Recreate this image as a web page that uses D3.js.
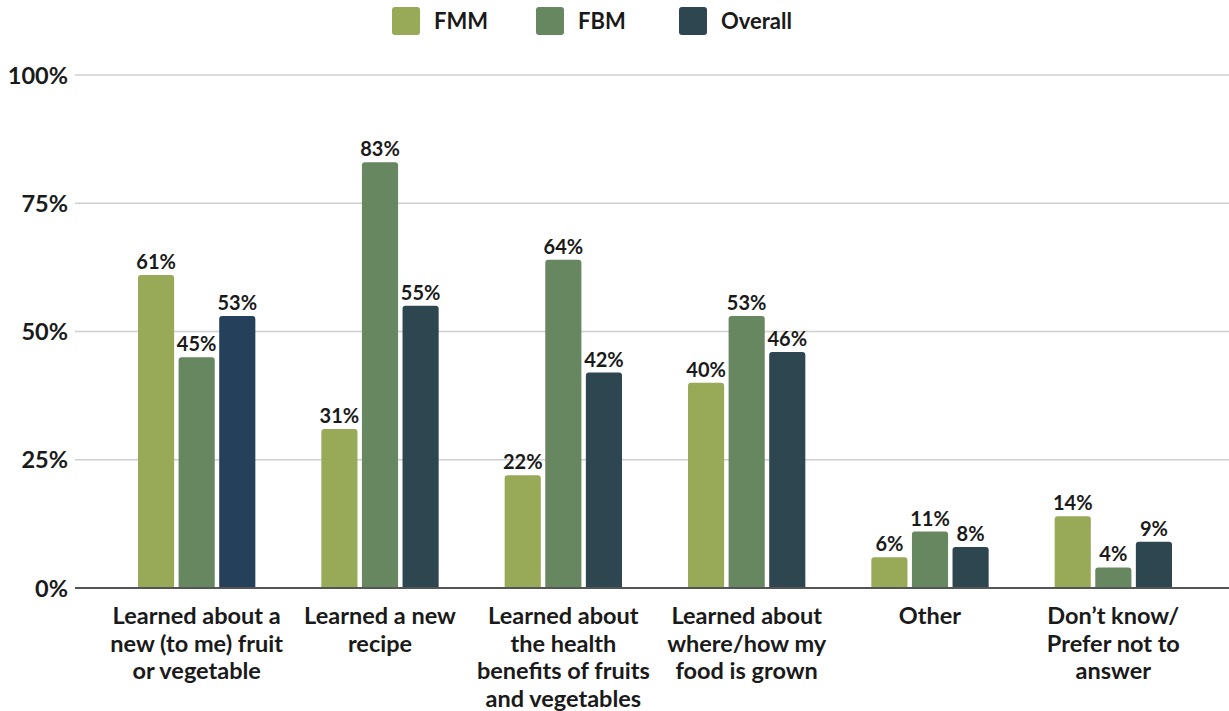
<!DOCTYPE html>
<html>
<head>
<meta charset="utf-8">
<script src="https://cdn.jsdelivr.net/npm/d3@7"></script>
<style>
  html, body { margin: 0; padding: 0; background: #ffffff; }
  svg text { font-family: Lato, "Open Sans", sans-serif; font-weight: 700; fill: #1a1a1a; }
</style>
</head>
<body>
<svg id="chart" width="1229" height="711"></svg>
<script>
// Survey outcomes by market type
const categories = [
  ["Learned about a", "new (to me) fruit", "or vegetable"],
  ["Learned a new", "recipe"],
  ["Learned about", "the health", "benefits of fruits", "and vegetables"],
  ["Learned about", "where/how my", "food is grown"],
  ["Other"],
  ["Don\u2019t know/", "Prefer not to", "answer"]
];
const seriesNames = ["FMM", "FBM", "Overall"];
const fmm     = [61, 31, 22, 40, 6, 14];
const fbm     = [45, 83, 64, 53, 11, 4];
const overall = [53, 55, 42, 46, 8, 9];
const yTicks  = [0, 25, 50, 75, 100];

const seriesValues = [fmm, fbm, overall];
const rows = categories.map((c, i) => ({
  idx: i,
  values: seriesNames.map((s, k) => ({ series: s, value: seriesValues[k][i] }))
}));

const svg = d3.select("#chart");
const W = 1229, H = 711;
const margin = { top: 75, right: 24, bottom: 123, left: 105 };

const y = d3.scaleLinear().domain([0, 100]).range([588, 75]);
const x0 = d3.scaleBand().domain(d3.range(categories.length))
  .range([margin.left, W - margin.right]).paddingInner(0.36).paddingOuter(0.18);
const x1 = d3.scaleBand().domain(seriesNames).range([0, x0.bandwidth()]).paddingInner(0.11);
const color = d3.scaleOrdinal().domain(seriesNames).range(["#98a958", "#66875f", "#2d4650"]);
const barColor = (d, i) => (d.series === "Overall" && i === 0) ? "#25405a" : color(d.series);

// Gridlines
svg.append("g")
  .selectAll("line")
  .data(yTicks.filter(t => t > 0))
  .join("line")
  .attr("x1", 75).attr("x2", W)
  .attr("y1", d => y(d)).attr("y2", d => y(d))
  .attr("stroke", "#d0d0d0").attr("stroke-width", 1.5);

// Y axis labels
const yAxis = d3.axisLeft(y).tickValues(yTicks).tickFormat(d => d + "%").tickSize(0).tickPadding(0);
const yg = svg.append("g").attr("transform", "translate(68,0)").call(yAxis);
yg.select(".domain").remove();
yg.selectAll("text").attr("font-size", 23.5).attr("font-family", "Lato, sans-serif")
  .attr("font-weight", 700).attr("fill", "#1a1a1a").attr("dy", "0.35em");

// Rounded-top bar path
function barPath(x, yTop, w, h, r) {
  r = Math.min(r, h / 2, w / 2);
  return `M${x},${yTop + h}V${yTop + r}Q${x},${yTop} ${x + r},${yTop}H${x + w - r}Q${x + w},${yTop} ${x + w},${yTop + r}V${yTop + h}Z`;
}

const groups = svg.append("g").selectAll("g")
  .data(rows).join("g")
  .attr("transform", d => `translate(${x0(d.idx)},0)`);

groups.each(function(row) {
  const g = d3.select(this);
  g.selectAll("path")
    .data(row.values).join("path")
    .attr("d", d => barPath(x1(d.series), y(d.value), x1.bandwidth(), y(0) - y(d.value), 3))
    .attr("fill", d => barColor(d, row.idx));
  g.selectAll("text.val")
    .data(row.values).join("text")
    .attr("class", "val")
    .attr("x", d => x1(d.series) + x1.bandwidth() / 2)
    .attr("y", d => y(d.value) - 6)
    .attr("text-anchor", "middle")
    .attr("font-size", 20)
    .text(d => d.value + "%");
});

// Baseline
svg.append("line")
  .attr("x1", 75).attr("x2", W)
  .attr("y1", y(0)).attr("y2", y(0))
  .attr("stroke", "#555").attr("stroke-width", 2);

// Category labels
const xl = svg.append("g").selectAll("text")
  .data(categories).join("text")
  .attr("text-anchor", "middle")
  .attr("font-size", 23.5)
  .attr("x", (d, i) => x0(i) + x0.bandwidth() / 2)
  .attr("y", 624);
xl.selectAll("tspan")
  .data(d => d).join("tspan")
  .attr("x", function() { return d3.select(this.parentNode).attr("x"); })
  .attr("dy", (d, i) => i === 0 ? 0 : 27.5)
  .text(d => d);

// Legend
const legend = svg.append("g");
const legendX = [392, 536, 679];
seriesNames.forEach((s, i) => {
  legend.append("rect")
    .attr("x", legendX[i]).attr("y", 7).attr("width", 28).attr("height", 28)
    .attr("rx", 3).attr("fill", color(s));
  legend.append("text")
    .attr("x", legendX[i] + 42).attr("y", 29)
    .attr("font-size", 22)
    .text(s);
});
</script>
</body>
</html>
